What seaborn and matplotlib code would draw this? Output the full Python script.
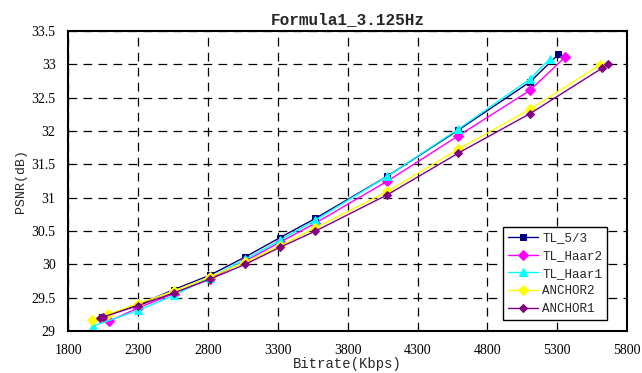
import matplotlib
matplotlib.use("Agg")
import matplotlib.pyplot as plt
import seaborn as sns
import pandas as pd

# ----------------------------
# Data
# ----------------------------
tl53_x = [2045, 2300, 2555, 2812, 3067, 3315, 3570, 4085, 4592, 5103, 5307]
tl53_y = [29.21, 29.39, 29.62, 29.835, 30.11, 30.40, 30.69, 31.325, 32.015, 32.735, 33.15]

haar2_x = [2091, 2300, 2555, 2812, 3067, 3315, 3570, 4085, 4592, 5103, 5353]
haar2_y = [29.145, 29.345, 29.56, 29.785, 30.05, 30.33, 30.62, 31.25, 31.93, 32.61, 33.105]

haar1_x = [1979, 2300, 2555, 2812, 3067, 3315, 3570, 4085, 4592, 5103, 5246]
haar1_y = [29.075, 29.31, 29.535, 29.80, 30.075, 30.36, 30.665, 31.325, 32.03, 32.78, 33.085]

anchor2_x = [1974, 2086, 2300, 2555, 2812, 3067, 3315, 3570, 4085, 4592, 5103, 5605]
anchor2_y = [29.17, 29.25, 29.41, 29.60, 29.81, 30.035, 30.275, 30.55, 31.095, 31.73, 32.325, 32.995]

anchor1_x = [2031, 2050, 2300, 2555, 2812, 3067, 3315, 3570, 4085, 4592, 5103, 5621, 5664]
anchor1_y = [29.195, 29.21, 29.38, 29.57, 29.775, 30.00, 30.255, 30.50, 31.045, 31.67, 32.26, 32.945, 33.01]

x_ticks = [1800, 2300, 2800, 3300, 3800, 4300, 4800, 5300, 5800]
y_ticks = [29, 29.5, 30, 30.5, 31, 31.5, 32, 32.5, 33, 33.5]
y_labels = ["29", "29.5", "30", "30.5", "31", "31.5", "32", "32.5", "33", "33.5"]

series = [
    ("TL_5/3", tl53_x, tl53_y, "#000080", "s", 5),
    ("TL_Haar2", haar2_x, haar2_y, "#FF00FF", "D", 5),
    ("TL_Haar1", haar1_x, haar1_y, "#00FFFF", "^", 6),
    ("ANCHOR2", anchor2_x, anchor2_y, "#FFFF00", "D", 5),
    ("ANCHOR1", anchor1_x, anchor1_y, "#800080", "D", 4),
]

sns.set_style("white")
plt.rcParams["font.family"] = ["Liberation Mono", "DejaVu Sans"]

fig = plt.figure(figsize=(6.42, 3.73), dpi=100)
ax = fig.add_axes([0.106, 0.1126, 0.871, 0.804])

for name, xs, ys, col, mk, ms in series:
    df = pd.DataFrame({"x": xs, "y": ys})
    sns.lineplot(data=df, x="x", y="y", sort=False, color=col, marker=mk,
                 markersize=ms, markeredgecolor=col, linewidth=1.0,
                 label=name, ax=ax)

ax.set_xlim(1800, 5800)
ax.set_ylim(29, 33.5)
ax.set_xticks(x_ticks)
ax.set_yticks(y_ticks)
ax.set_yticklabels(y_labels)
ax.tick_params(direction="in", length=4, width=1, colors="black")
ax.tick_params(axis="x", pad=9)
ax.tick_params(axis="y", pad=9)
for lab in ax.get_xticklabels() + ax.get_yticklabels():
    lab.set_fontfamily("Liberation Serif")
    lab.set_fontsize(10)

ax.grid(True, color="black", linestyle=(0, (7, 5)), linewidth=0.9)
for sp in ax.spines.values():
    sp.set_color("black")
    sp.set_linewidth(1.5)

ax.set_title("Formula1_3.125Hz", fontsize=11.5, fontweight="bold", pad=5)
ax.set_xlabel("Bitrate(Kbps)", fontsize=10, labelpad=0)
ax.set_ylabel("PSNR(dB)", fontsize=9.5, labelpad=3)

leg = ax.legend(loc="lower right", bbox_to_anchor=(0.964, 0.037), fontsize=9,
                frameon=True, fancybox=False, framealpha=1, edgecolor="black",
                handlelength=2.4, borderpad=0.4, labelspacing=0.45,
                handletextpad=0.3, borderaxespad=0)
leg.get_frame().set_linewidth(1.0)

plt.savefig("out.png", dpi=100)
plt.close()
